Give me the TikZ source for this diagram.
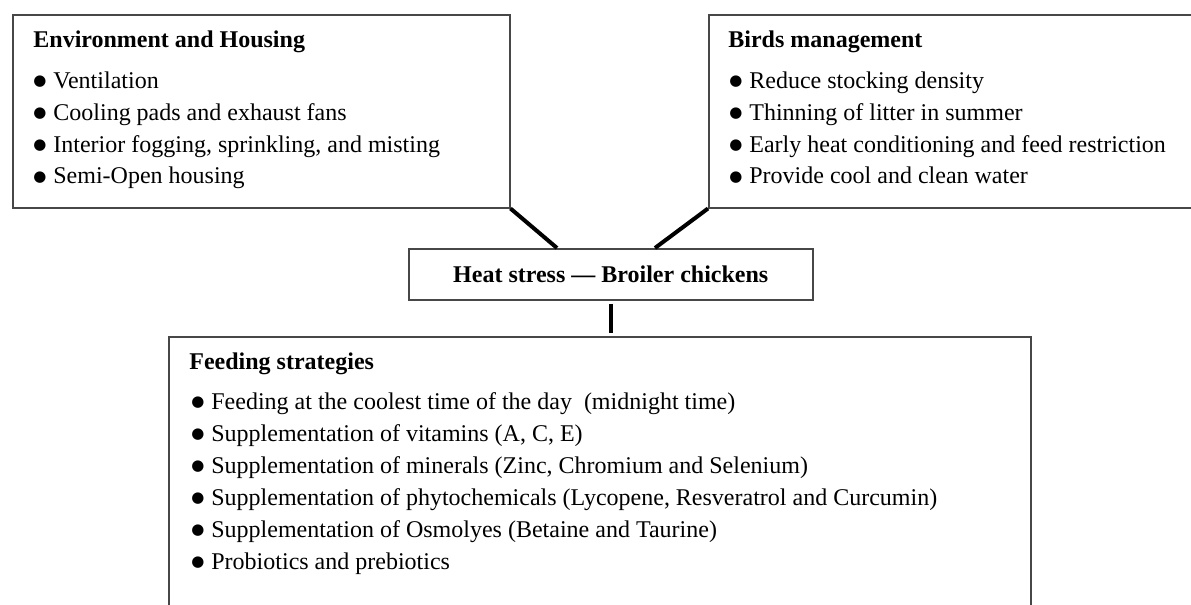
\documentclass[tikz,border=0pt]{standalone}
\usepackage{fontspec}
\setmainfont{Liberation Serif}
\newfontfamily\dejavu{DejaVu Sans}
\newcommand\bul{\makebox[10pt][l]{\raisebox{1.3pt}{\dejavu\fontsize{7.5}{8}\selectfont ●}}}
\tikzset{
  box/.style={draw=black!72, line width=0.75pt, rectangle, inner sep=0pt, anchor=north west},
  conn/.style={line width=2pt, black},
  ttl/.style={font=\fontsize{12}{14}\selectfont\bfseries, anchor=base west, inner sep=0pt},
  itm/.style={font=\fontsize{12}{14}\selectfont, anchor=base west, inner sep=0pt},
}
\begin{document}
\begin{tikzpicture}[x=1pt,y=-1pt]
\useasboundingbox (0,0) rectangle (595.5,302.5);
\clip (0,0) rectangle (595.5,302.5);
% boxes
\node[box, minimum width=248.5pt, minimum height=96.5pt] (env) at (6,7) {};
\node[box, minimum width=270pt, minimum height=96.5pt] (birds) at (354,7) {};
\node[box, minimum width=202pt, minimum height=25.5pt, font=\fontsize{12}{14}\selectfont\bfseries] (heat) at (204,124) {Heat stress — Broiler chickens};
\node[box, minimum width=431pt, minimum height=160pt] (feed) at (84,168) {};
% connectors
\coordinate (hl) at (278.5,124);
\coordinate (hr) at (327.5,124);
\draw[conn] (env.south east) -- (hl);
\draw[conn] (birds.south west) -- (hr);
\draw[conn] ([yshift=-1.5pt]heat.south) -- ([yshift=1.5pt]heat.south |- feed.north);
% Environment and Housing
\node[ttl] (envt) at (16.5,23.5) {Environment and Housing};
\node[itm] (env1) at (16.5,44) {\bul Ventilation};
\node[itm] (env2) at (16.5,60) {\bul Cooling pads and exhaust fans};
\node[itm] (env3) at (16.5,76) {\bul Interior fogging, sprinkling, and misting};
\node[itm] (env4) at (16.5,92) {\bul Semi-Open housing};
% Birds management
\node[ttl] (birdst) at (364,23.5) {Birds management};
\node[itm] (birds1) at (364.5,44) {\bul Reduce stocking density};
\node[itm] (birds2) at (364.5,60) {\bul Thinning of litter in summer};
\node[itm] (birds3) at (364.5,76) {\bul Early heat conditioning and feed restriction};
\node[itm] (birds4) at (364.5,92) {\bul Provide cool and clean water};
% Feeding strategies
\node[ttl] (feedt) at (94.5,184.5) {Feeding strategies};
\node[itm] (feed1) at (95.5,204.5) {\bul Feeding at the coolest time of the day\enspace(midnight time)};
\node[itm] (feed2) at (95.5,220.5) {\bul Supplementation of vitamins (A, C, E)};
\node[itm] (feed3) at (95.5,236.5) {\bul Supplementation of minerals (Zinc, Chromium and Selenium)};
\node[itm] (feed4) at (95.5,252.5) {\bul Supplementation of phytochemicals (Lycopene, Resveratrol and Curcumin)};
\node[itm] (feed5) at (95.5,268.5) {\bul Supplementation of Osmolyes (Betaine and Taurine)};
\node[itm] (feed6) at (95.5,284.5) {\bul Probiotics and prebiotics};
\end{tikzpicture}
\end{document}
